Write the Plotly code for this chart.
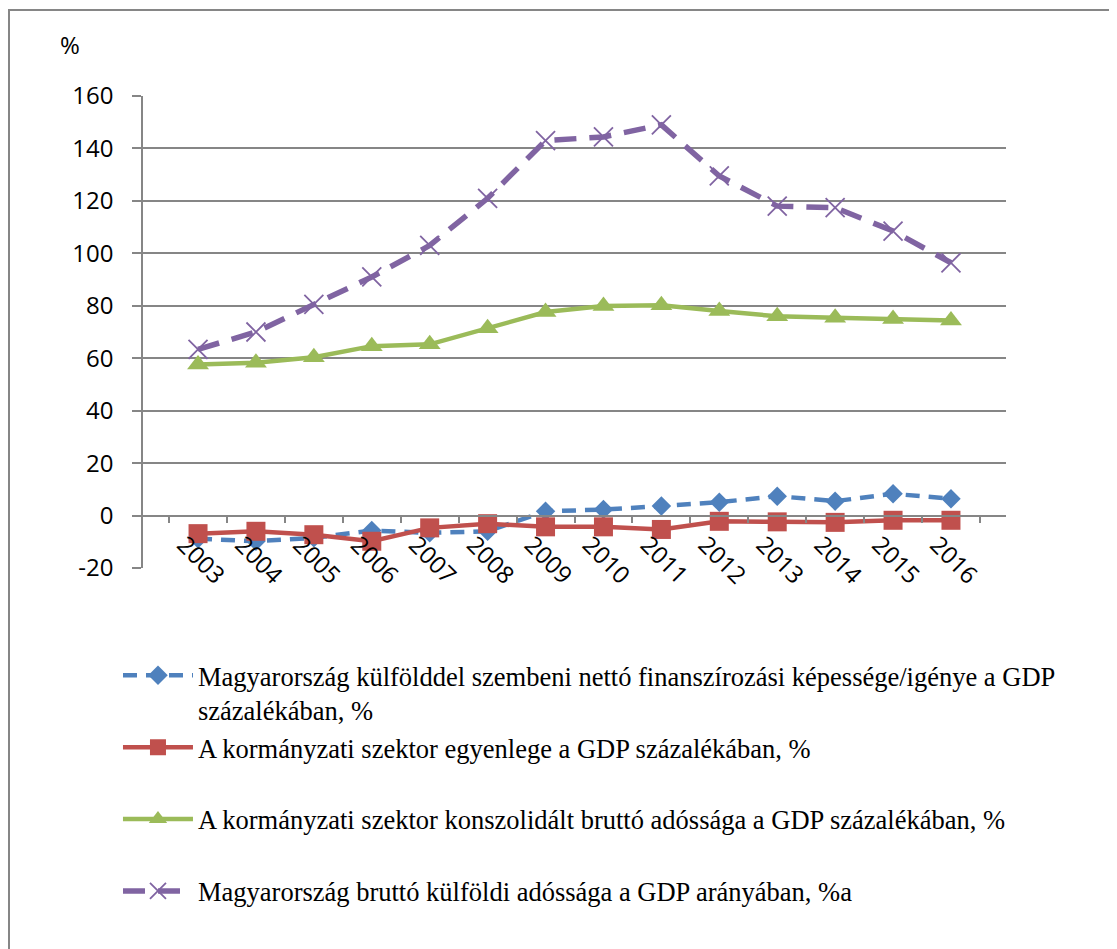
import plotly.graph_objects as go

years = [str(y) for y in range(2003, 2017)]

# net lending/borrowing vs rest of world, % of GDP
net_lending = [-8.8, -9.8, -8.5, -5.7, -6.6, -6.0, 1.6, 2.3, 3.6, 5.1, 7.4, 5.5, 8.3, 6.4]
# general government balance, % of GDP
gov_balance = [-6.9, -6.0, -7.3, -9.8, -4.7, -3.1, -4.3, -4.3, -5.3, -2.2, -2.4, -2.6, -1.8, -1.8]
# general government consolidated gross debt, % of GDP
gov_debt = [57.6, 58.3, 60.4, 64.6, 65.3, 71.4, 77.6, 79.9, 80.2, 78.0, 76.0, 75.4, 75.0, 74.4]
# gross external debt, % of GDP
ext_debt = [63.4, 70.0, 80.5, 91.0, 103.0, 121.0, 143.0, 144.4, 149.0, 129.5, 118.0, 117.4, 108.5, 96.4]

names = [
    "Magyarország külfölddel szembeni nettó finanszírozási képessége/igénye a GDP<br>százalékában, %",
    "A kormányzati szektor egyenlege a GDP százalékában, %<br> ",
    "A kormányzati szektor konszolidált bruttó adóssága a GDP százalékában, %<br> ",
    "Magyarország bruttó külföldi adóssága a GDP arányában, %a",
]

y_ticks = list(range(-20, 161, 20))
y_labels = [str(v) for v in y_ticks]

BLUE = "#4F81BD"
RED = "#C0504D"
GREEN = "#9BBB59"
PURPLE = "#8064A2"
GRID = "#868686"

fig = go.Figure()
fig.add_trace(go.Scatter(x=years, y=net_lending, name=names[0], mode="lines+markers",
                         line=dict(color=BLUE, width=4.5, dash="14px,9px"),
                         marker=dict(symbol="diamond", size=15, color=BLUE)))
fig.add_trace(go.Scatter(x=years, y=gov_balance, name=names[1], mode="lines+markers",
                         line=dict(color=RED, width=4.5),
                         marker=dict(symbol="square", size=19, color=RED)))
fig.add_trace(go.Scatter(x=years, y=gov_debt, name=names[2], mode="lines+markers",
                         line=dict(color=GREEN, width=4.5),
                         marker=dict(symbol="triangle-up", size=19, color=GREEN)))
fig.add_trace(go.Scatter(x=years, y=ext_debt, name=names[3], mode="lines+markers",
                         line=dict(color=PURPLE, width=5.5, dash="22px,13px"),
                         marker=dict(symbol="x-thin", size=19, color=PURPLE,
                                     line=dict(color=PURPLE, width=1.8))))

tick_font = dict(family="Open Sans", size=24, color="black")

fig.update_layout(
    width=1109, height=941,
    margin=dict(l=135, r=111, t=88, b=381),
    paper_bgcolor="white", plot_bgcolor="white",
    xaxis=dict(
        type="category", anchor="free", position=20 / 180,
        showline=True, linecolor=GRID, linewidth=1.5,
        ticks="outside", tickson="boundaries", ticklen=7, tickcolor=GRID, tickwidth=1.5,
        tickangle=45, tickfont=tick_font, showgrid=False, zeroline=False,
        ticklabelshift=-14, ticklabelstandoff=5,
    ),
    yaxis=dict(
        range=[-20, 160], tickvals=y_ticks, ticktext=y_labels,
        showline=True, linecolor=GRID, linewidth=1.5,
        ticks="outside", ticklen=9, tickcolor=GRID, tickwidth=1.5,
        showgrid=True, gridcolor=GRID, gridwidth=1.5, zeroline=False,
        tickfont=tick_font, ticklabelstandoff=14,
    ),
    legend=dict(
        x=-0.029, y=-0.177, xanchor="left", yanchor="top",
        font=dict(family="Liberation Serif", size=26.5, color="black"),
        itemwidth=70, valign="top", tracegroupgap=4, bgcolor="rgba(0,0,0,0)",
    ),
    showlegend=True,
    annotations=[dict(text="%", xref="paper", yref="paper", x=-0.085, y=1.11,
                      xanchor="center", yanchor="middle", showarrow=False, font=tick_font)],
    shapes=[dict(type="rect", xref="paper", yref="paper",
                 x0=-134 / 863, x1=1.2, y0=-1.0, y1=1 + 86 / 472,
                 line=dict(color=GRID, width=2), layer="below")],
)

fig.write_html("out.html")
